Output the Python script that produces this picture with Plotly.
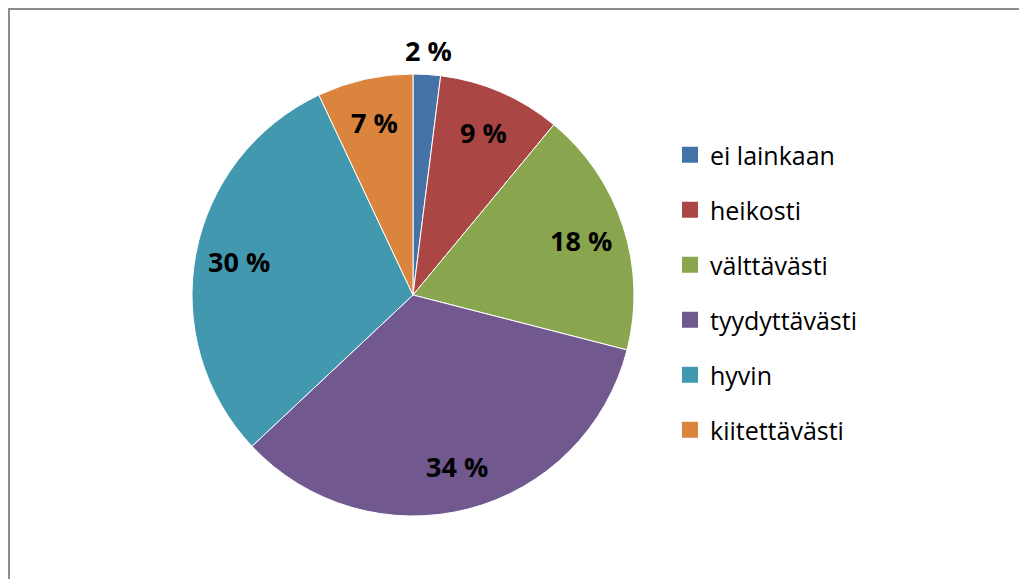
import math
import plotly.graph_objects as go

categories = ["ei lainkaan", "heikosti", "välttävästi", "tyydyttävästi", "hyvin", "kiitettävästi"]
values = [2, 9, 18, 34, 30, 7]
colors = ["#4572A7", "#AA4643", "#89A54E", "#71588F", "#4198AF", "#DB843D"]

# page body has an 8px default margin, so figure coordinates are offset by 8px
OFF = 8
W, H = 1027 - OFF, 579 - OFF
CX, CY, R = 413 - OFF, 295 - OFF, 221  # pie centre / radius in pixels (from top-left)

fig = go.Figure()
fig.add_trace(go.Pie(
    labels=categories, values=values, sort=False, direction="clockwise", rotation=0,
    marker=dict(colors=colors, line=dict(color="white", width=1)),
    textinfo="none", showlegend=False, hoverinfo="label+percent",
    domain=dict(x=[(CX - R) / W, (CX + R) / W], y=[(H - CY - R) / H, (H - CY + R) / H]),
))

# legend entries via invisible scatter traces (for item spacing)
for i, (c, col) in enumerate(zip(categories, colors)):
    fig.add_trace(go.Scatter(
        x=[None], y=[None], mode="markers", name=c, legendgroup=f"g{i}",
        marker=dict(symbol="square", size=16, color=col),
    ))

# percentage labels
total = sum(values)
cum = 0
for v in values:
    mid = (cum + v / 2) / total * 2 * math.pi
    cum += v
    r = 1.11 * R if v / total < 0.04 else 0.8 * R
    px = CX + r * math.sin(mid)
    py = CY - r * math.cos(mid)
    fig.add_annotation(
        x=px / W, y=1 - py / H, xref="paper", yref="paper", showarrow=False,
        text=f"<b>{v} %</b>", font=dict(family="Open Sans", size=27, color="black"),
        xanchor="center", yanchor="middle",
    )

# chart border
fig.add_shape(type="rect", xref="paper", yref="paper",
              x0=1 / W, x1=1.05, y0=-0.05, y1=1 - 1 / H,
              line=dict(color="#8C8C8C", width=2), fillcolor="rgba(0,0,0,0)")

fig.update_layout(
    width=W, height=H, margin=dict(l=0, r=0, t=0, b=0),
    paper_bgcolor="white", plot_bgcolor="white",
    xaxis=dict(visible=False), yaxis=dict(visible=False),
    legend=dict(x=662 / W, y=1 - 124 / H, xanchor="left", yanchor="top",
                traceorder="grouped", tracegroupgap=19.5,
                font=dict(family="Open Sans", size=25, color="black"),
                bgcolor="rgba(0,0,0,0)"),
    showlegend=True,
)

fig.write_html("out.html")
